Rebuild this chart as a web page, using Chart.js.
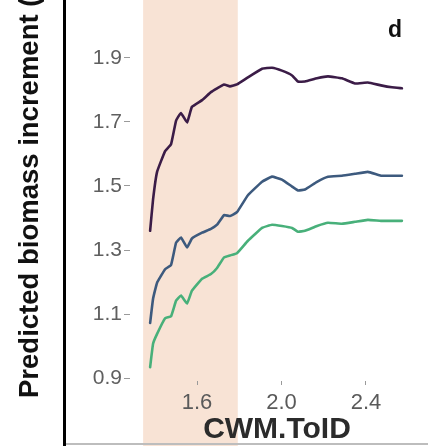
<!DOCTYPE html>
<html>
<head>
<meta charset="utf-8">
<script src="https://cdn.jsdelivr.net/npm/chart.js@4/dist/chart.umd.min.js"></script>
<style>
  html, body { margin: 0; padding: 0; background: #ffffff; }
  #wrap { width: 428px; height: 446px; position: relative; }
</style>
</head>
<body>
<div id="wrap"><canvas id="c" width="428" height="446"></canvas></div>
<script>
// Community-weighted mean tolerance (CWM.ToID) along the x axis
const toid = [1.378, 1.392, 1.411, 1.449, 1.477, 1.501, 1.524, 1.553, 1.576, 1.624,
              1.666, 1.695, 1.728, 1.756, 1.789, 1.841, 1.908, 1.955, 2.002, 2.050,
              2.078, 2.111, 2.168, 2.220, 2.286, 2.348, 2.409, 2.471, 2.523, 2.570];

// Predicted biomass increment for the three scenarios
const seriesHigh = [1.360, 1.458, 1.544, 1.609, 1.630, 1.704, 1.728, 1.698, 1.747, 1.768,
                    1.793, 1.805, 1.817, 1.811, 1.817, 1.839, 1.866, 1.869, 1.860, 1.845,
                    1.826, 1.826, 1.836, 1.842, 1.836, 1.820, 1.823, 1.814, 1.808, 1.805];
const seriesMid  = [1.072, 1.148, 1.198, 1.240, 1.253, 1.323, 1.339, 1.308, 1.336, 1.354,
                    1.366, 1.379, 1.409, 1.406, 1.418, 1.471, 1.513, 1.529, 1.520, 1.498,
                    1.486, 1.489, 1.513, 1.529, 1.532, 1.538, 1.544, 1.532, 1.532, 1.532];
const seriesLow  = [0.934, 1.007, 1.038, 1.087, 1.093, 1.142, 1.158, 1.133, 1.173, 1.210,
                    1.225, 1.244, 1.277, 1.283, 1.290, 1.329, 1.369, 1.379, 1.375, 1.369,
                    1.357, 1.360, 1.375, 1.385, 1.382, 1.388, 1.394, 1.391, 1.391, 1.391];

const xTicks = [1.6, 2.0, 2.4];
const yTicks = [0.9, 1.1, 1.3, 1.5, 1.7, 1.9];

// Highlighted CWM.ToID range
const bandStart = 1.345;
const bandEnd = 1.793;

const yTitle = 'Predicted biomass increment (%)';
const xTitle = 'CWM.ToID';
const panelTag = 'd';

const toPoints = ys => ys.map((y, i) => ({ x: toid[i], y: y }));

const decorations = {
  id: 'decorations',
  beforeDraw(chart) {
    const ctx = chart.ctx;
    const xs = chart.scales.x;
    const x0 = xs.getPixelForValue(bandStart);
    const x1 = xs.getPixelForValue(bandEnd);
    ctx.save();
    ctx.fillStyle = '#f8e3d5';
    ctx.fillRect(x0, 0, x1 - x0, chart.height);
    ctx.restore();
  },
  afterDraw(chart) {
    const ctx = chart.ctx;
    ctx.save();
    // separator bar and bottom rule
    ctx.fillStyle = '#000000';
    ctx.fillRect(63, 0, 3, chart.height);
    ctx.fillStyle = '#bdbdbd';
    ctx.fillRect(66, 443, chart.width - 66, 2);

    // y title, rotated
    ctx.save();
    ctx.translate(38, 398);
    ctx.rotate(-Math.PI / 2);
    ctx.font = 'bold 27.5px "Liberation Sans", Arial, sans-serif';
    ctx.fillStyle = '#111111';
    ctx.textAlign = 'left';
    ctx.textBaseline = 'alphabetic';
    ctx.fillText(yTitle, 0, 0);
    ctx.restore();

    // x title
    ctx.font = 'bold 30px "Liberation Sans", Arial, sans-serif';
    ctx.fillStyle = '#2b2b2b';
    ctx.textAlign = 'center';
    ctx.textBaseline = 'middle';
    ctx.fillText(xTitle, 277, 430);

    // panel tag
    ctx.font = 'bold 23px "Liberation Sans", Arial, sans-serif';
    ctx.fillStyle = '#111111';
    ctx.fillText(panelTag, 395, 31);
    ctx.restore();
  }
};

new Chart(document.getElementById('c'), {
  type: 'line',
  data: {
    datasets: [
      { data: toPoints(seriesHigh), borderColor: '#3b1c47', borderWidth: 2.6 },
      { data: toPoints(seriesMid),  borderColor: '#3d5a7e', borderWidth: 2.6 },
      { data: toPoints(seriesLow),  borderColor: '#48b07a', borderWidth: 2.6 }
    ]
  },
  options: {
    responsive: false,
    animation: false,
    events: [],
    layout: { padding: { left: 0, right: 12, top: 8, bottom: 0 } },
    elements: { point: { radius: 0 }, line: { tension: 0.1, borderCapStyle: 'round', borderJoinStyle: 'round' } },
    plugins: { legend: { display: false }, tooltip: { enabled: false } },
    scales: {
      x: {
        type: 'linear',
        min: 1.2828,
        max: 2.6367,
        afterFit(s) { s.height = 65; },
        afterBuildTicks(s) { s.ticks = xTicks.map(v => ({ value: v })); },
        border: { display: false },
        grid: { drawOnChartArea: false, drawTicks: true, tickLength: 4, color: '#9a9a9a', lineWidth: 1 },
        ticks: {
          padding: 5,
          color: '#5a5a5a',
          font: { family: '"Liberation Sans", Arial, sans-serif', size: 22 },
          maxRotation: 0,
          callback: v => v.toFixed(1)
        }
      },
      y: {
        type: 'linear',
        min: 0.891,
        max: 2.035,
        afterFit(s) { s.width = 130; },
        afterBuildTicks(s) { s.ticks = yTicks.map(v => ({ value: v })); },
        border: { display: false },
        grid: { drawOnChartArea: false, drawTicks: true, tickLength: 6, color: '#9a9a9a', lineWidth: 1 },
        ticks: {
          padding: 2,
          color: '#5f5f5f',
          font: { family: '"Liberation Sans", Arial, sans-serif', size: 21 },
          callback: v => v.toFixed(1)
        }
      }
    }
  },
  plugins: [decorations]
});
</script>
</body>
</html>
